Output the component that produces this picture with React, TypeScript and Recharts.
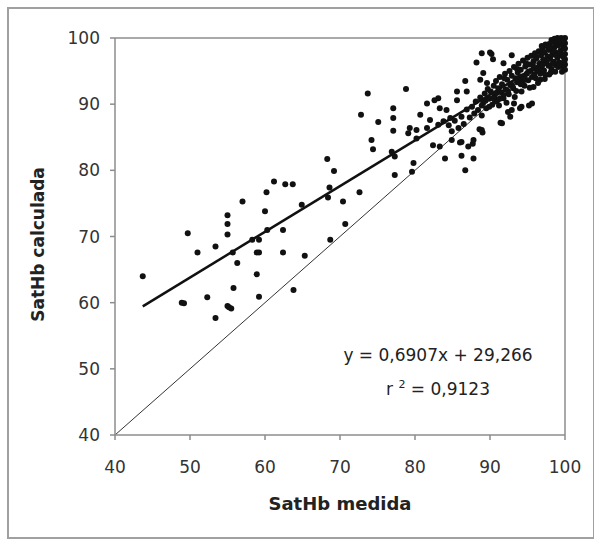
import { ScatterChart, Scatter, XAxis, YAxis, ReferenceLine } from "recharts";

// SatHb medida (x) vs SatHb calculada (y)
const lowRange: [number, number][] = [
  [43.7, 64.0], [49.7, 70.5], [48.9, 60.0], [49.2, 59.9], [51.0, 67.6], [52.3, 60.8],
  [53.4, 68.5], [53.4, 57.7], [55.0, 73.2], [55.0, 71.9], [55.0, 70.3], [55.0, 59.5],
  [55.5, 59.1], [55.2, 59.3], [55.8, 62.2], [55.7, 67.6], [56.3, 66.0], [57.0, 75.3],
  [58.3, 69.5], [58.9, 67.6], [59.2, 67.6], [58.9, 64.3], [59.2, 60.9], [59.2, 69.5],
  [60.0, 73.8], [60.3, 71.0], [60.2, 76.7], [61.2, 78.3], [62.7, 77.9], [63.7, 77.9],
  [62.4, 71.0], [62.4, 67.6], [63.8, 61.9], [64.9, 74.8], [65.3, 67.1], [68.3, 81.7],
  [68.4, 75.9], [68.6, 77.4], [69.2, 79.9], [68.7, 69.5], [70.4, 75.3], [70.7, 71.9],
  [72.6, 76.7], [72.8, 88.4], [73.7, 91.6],
];

const midRange: [number, number][] = [
  [74.2, 84.6], [74.4, 83.2], [75.1, 87.3], [77.1, 89.4], [77.1, 87.9], [77.1, 86.0],
  [76.9, 82.8], [77.3, 82.1], [77.3, 79.3], [78.8, 92.3], [79.8, 81.1], [79.6, 79.8],
  [80.7, 88.4], [82.0, 87.6], [79.3, 86.4], [80.2, 86.1], [79.1, 85.6], [80.2, 84.8],
  [81.6, 86.4], [83.1, 86.9], [83.3, 89.4], [83.1, 90.9], [84.2, 89.1], [85.6, 90.6],
  [84.7, 87.9], [83.8, 87.4], [82.4, 83.8], [83.3, 83.6], [84.0, 81.8], [84.9, 84.6],
  [86.2, 84.3], [86.7, 80.0], [85.6, 91.9], [86.9, 91.9], [81.6, 90.1], [82.6, 90.6],
  [86.0, 84.2], [86.2, 82.2], [86.7, 93.5], [87.1, 83.6], [87.7, 84.0], [87.8, 81.8],
  [88.2, 96.3], [88.6, 86.2], [89.0, 85.7], [90.2, 97.6], [90.4, 96.8], [91.4, 87.2],
  [92.4, 88.8], [93.2, 90.1], [94.2, 89.6], [95.2, 89.8],
];

const upperScatter: [number, number][] = [
  [88.9, 97.7], [90.0, 97.8], [92.9, 97.4], [91.8, 96.2], [89.1, 94.7], [88.7, 93.7],
  [89.6, 93.2], [91.6, 87.1], [92.9, 89.1], [94.0, 89.4], [95.6, 90.1], [92.7, 88.1],
  [87.8, 84.6], [88.9, 86.1], [96.7, 93.7], [97.9, 94.5], [95.8, 92.6],
];

const denseBand: [number, number][] = [
  [84.5, 86.8], [84.9, 85.9], [85.3, 87.5], [85.8, 86.4], [86.2, 88.1], [86.5, 87.0],
  [86.9, 89.2], [87.3, 88.0], [87.6, 89.6], [87.9, 88.6], [88.1, 90.4], [88.4, 89.1],
  [88.7, 91.0], [88.9, 88.3], [89.1, 90.2], [89.3, 91.6], [89.5, 89.4], [89.7, 92.3],
  [89.9, 90.8], [90.1, 91.9], [90.3, 89.9], [90.5, 92.8], [90.6, 91.2], [90.8, 93.5],
  [91.0, 90.6], [91.1, 92.4], [91.3, 94.1], [91.5, 91.8], [91.6, 93.0], [91.8, 90.9],
  [92.0, 94.6], [92.1, 92.2], [92.3, 93.7], [92.5, 91.5], [92.6, 95.0], [92.8, 93.1],
  [92.9, 94.3], [93.1, 92.4], [93.2, 95.6], [93.4, 93.9], [93.5, 92.0], [93.7, 94.8],
  [93.8, 96.1], [94.0, 93.3], [94.1, 95.2], [94.3, 94.2], [94.4, 96.6], [94.6, 92.8],
  [94.7, 95.7], [94.9, 94.6], [95.0, 97.0], [95.1, 93.6], [95.2, 96.0], [95.4, 95.0],
  [95.5, 97.3], [95.6, 94.1], [95.8, 96.5], [95.9, 95.4], [96.0, 97.7], [96.1, 93.9],
  [96.2, 96.9], [96.3, 95.0], [96.5, 98.0], [96.6, 96.1], [96.7, 94.6], [96.8, 97.4],
  [96.9, 95.6], [97.0, 98.4], [97.1, 96.7], [97.2, 95.1], [97.3, 97.8], [97.4, 94.4],
  [97.5, 96.2], [97.6, 98.8], [97.7, 97.2], [97.8, 95.8], [97.9, 99.1], [98.0, 96.9],
  [98.1, 98.2], [98.2, 95.3], [98.3, 97.5], [98.4, 99.4], [98.5, 96.4], [98.6, 98.6],
  [98.7, 97.8], [98.8, 95.9], [98.9, 99.6], [99.0, 97.0], [99.1, 98.9], [99.2, 96.3],
  [99.3, 99.8], [99.4, 98.1], [99.5, 97.4], [99.6, 99.3], [99.7, 95.7], [99.8, 98.5],
  [99.9, 99.9], [100, 100], [100, 99.2], [100, 98.4], [100, 97.6], [100, 96.8],
  [100, 96.0], [100, 95.2], [99.5, 100], [99.0, 100], [98.6, 99.9], [98.2, 99.7],
];

const denseCore: [number, number][] = [
  [90.7, 90.4], [91.2, 89.8], [91.9, 93.9], [92.2, 90.2], [92.7, 92.9], [93.3, 91.1],
  [93.6, 95.3], [93.9, 94.0], [94.2, 91.9], [94.5, 93.6], [94.8, 96.2], [95.3, 92.5],
  [95.7, 95.9], [96.1, 97.2], [96.4, 93.2], [96.8, 95.1], [97.1, 97.9], [97.3, 93.8],
  [97.6, 96.6], [97.8, 98.3], [98.1, 94.8], [98.3, 96.1], [98.5, 98.0], [98.7, 94.9],
  [98.9, 97.3], [99.1, 95.6], [99.3, 97.8], [99.5, 96.2], [99.6, 94.9], [99.8, 97.1],
  [99.9, 96.4], [99.4, 99.0], [98.8, 99.2], [97.4, 99.0], [96.9, 98.8], [99.7, 99.6],
  [99.2, 99.5], [98.0, 98.6], [97.0, 96.0], [96.4, 95.5], [95.9, 94.5], [95.1, 94.9],
  [94.6, 94.0], [94.1, 93.0], [93.6, 93.3], [93.0, 92.7], [92.4, 92.0], [91.8, 91.4],
  [91.3, 90.8], [90.9, 91.7], [90.4, 90.9], [89.9, 89.6], [89.4, 90.5], [88.9, 89.8],
];

const axisTicks = [40, 50, 60, 70, 80, 90, 100];

// linear fit printed on the chart
const slope = 0.6907;
const intercept = 29.266;
const fitFrom = 43.7;
const fitTo = 100;

const font = "'DejaVu Sans', sans-serif";
const grey = "#8c8c8c";

const points = [...lowRange, ...midRange, ...upperScatter, ...denseBand, ...denseCore].map(([x, y]) => ({ x, y }));

const Dot = (p: any) => <circle cx={p.cx} cy={p.cy} r={3} fill="#111" />;

const YTitle = (props: any) => {
  const vb = props.viewBox;
  const cx = vb.x + 8;
  const cy = vb.y + vb.height / 2 + 8;
  return (
    <text x={cx} y={cy} transform={`rotate(-90, ${cx}, ${cy})`} textAnchor="middle" dominantBaseline="central"
      fontFamily={font} fontWeight="bold" fontSize={17} fill="#222">
      SatHb calculada
    </text>
  );
};

export default function App() {
  const tickStyle = { fontFamily: font, fontSize: 17, fill: "#333" };
  return (
    <div style={{ position: "absolute", left: 0, top: 0, width: 594, height: 539, background: "#fff" }}>
      <div style={{ position: "absolute", left: 7, top: 7, width: 588, height: 532, border: "2px solid #a0a0a0", boxSizing: "border-box" }} />
      <ScatterChart width={594} height={539} margin={{ top: 38, right: 29, bottom: 42, left: 30 }} style={{ position: "absolute", left: 0, top: 0 }}>
        <XAxis type="number" dataKey="x" domain={[40, 100]} ticks={axisTicks} height={62} tick={tickStyle}
          tickSize={5} tickMargin={21} axisLine={{ stroke: grey, strokeWidth: 1.5 }} tickLine={{ stroke: grey, strokeWidth: 1.5 }}
          label={{ value: "SatHb medida", position: "bottom", offset: 0, style: { fontFamily: font, fontWeight: "bold", fontSize: 18, fill: "#222" } }} />
        <YAxis type="number" dataKey="y" domain={[40, 100]} ticks={axisTicks} width={85} tick={tickStyle}
          tickSize={5} tickMargin={10} axisLine={{ stroke: grey, strokeWidth: 1.5 }} tickLine={{ stroke: grey, strokeWidth: 1.5 }}
          label={{ content: YTitle }} />
        <ReferenceLine y={100} stroke={grey} strokeWidth={1.5} />
        <ReferenceLine x={100} stroke={grey} strokeWidth={1.5} />
        <ReferenceLine segment={[{ x: 40, y: 40 }, { x: 100, y: 100 }]} stroke="#333" strokeWidth={1} />
        <Scatter data={points} isAnimationActive={false} shape={Dot} />
        <ReferenceLine segment={[{ x: fitFrom, y: slope * fitFrom + intercept }, { x: fitTo, y: slope * fitTo + intercept }]} stroke="#111" strokeWidth={2.5} />
      </ScatterChart>
      <div style={{ position: "absolute", left: 338, width: 200, top: 343, textAlign: "center", fontFamily: font, fontSize: 17, color: "#222", lineHeight: "24px" }}>
        y = 0,6907x + 29,266
      </div>
      <div style={{ position: "absolute", left: 338, width: 200, top: 373, textAlign: "center", fontFamily: font, fontSize: 17, color: "#222", lineHeight: "24px" }}>
        r <sup style={{ fontSize: 11, verticalAlign: 7 }}>2</sup> = 0,9123
      </div>
    </div>
  );
}
